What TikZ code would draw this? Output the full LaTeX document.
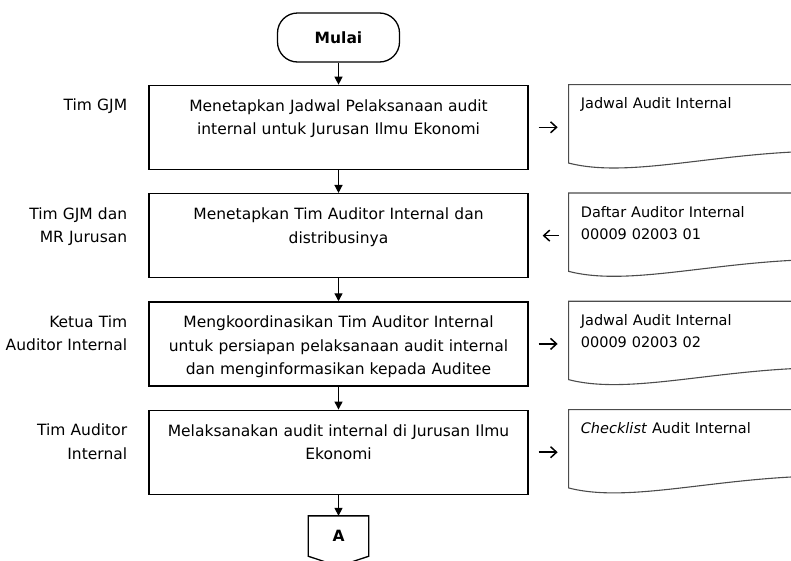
\documentclass[tikz,border=0pt]{standalone}
\usepackage{fontspec}
\setmainfont{DejaVu Sans}
\usetikzlibrary{positioning,calc,arrows.meta}

\begin{document}
\begin{tikzpicture}[x=1pt,y=-1pt,
        font=\fontsize{15.5}{23.5}\selectfont,
        term/.style={draw,line width=1.3pt,rounded corners=20pt,
            minimum width=122pt,minimum height=49pt,inner sep=0pt},
        proc/.style={draw,line width=1.3pt,inner xsep=10pt,inner ysep=0pt,
            text width=359pt,align=center,text height=26pt,text depth=58pt},
        role/.style={inner sep=0pt,text width=128pt,align=right,text height=26pt},
        docbox/.style={inner xsep=12pt,inner ysep=0pt,text width=236pt,align=left,
            text height=24pt,text depth=54pt,font=\fontsize{14.5}{22}\selectfont},
        docline/.style={draw=black!70,line width=1.1pt},
        offpage/.style={minimum width=60pt,minimum height=40pt,inner sep=0pt},
        flow/.style={-{Triangle[length=8pt,width=8pt]},line width=1.3pt},
        side/.style={-{Straight Barb[length=6pt,width=11pt]},line width=1.5pt}]
    \useasboundingbox (0,0) rectangle (791,560);

    \node[term] (start) at (338.5,37.5) {\textbf{Mulai}};
    \node[proc,below=22pt of start] (b1)
        {Menetapkan Jadwal Pelaksanaan audit\\internal untuk Jurusan Ilmu Ekonomi};
    \node[proc,below=23pt of b1] (b2)
        {Menetapkan Tim Auditor Internal dan\\distribusinya};
    \node[proc,below=23pt of b2] (b3)
        {Mengkoordinasikan Tim Auditor Internal\\untuk persiapan pelaksanaan audit internal\\dan menginformasikan kepada Auditee};
    \node[proc,below=23pt of b3] (b4)
        {Melaksanakan audit internal di Jurusan Ilmu\\Ekonomi};
    \node[offpage,below=21pt of b4] (A) {\textbf{A}};

    \node[role,below left=0pt and 21pt of b1.north west] (r1) {Tim GJM};
    \node[role,below left=0pt and 21pt of b2.north west] (r2) {Tim GJM dan\\MR Jurusan};
    \node[role,below left=0pt and 21pt of b3.north west] (r3) {Ketua Tim\\Auditor Internal};
    \node[role,below left=0pt and 21pt of b4.north west] (r4) {Tim Auditor\\Internal};

    \node[docbox,below right=0pt and 40pt of b1.north east] (d1) {Jadwal Audit Internal};
    \node[docbox,below right=0pt and 40pt of b2.north east] (d2) {Daftar Auditor Internal\\00009 02003 01};
    \node[docbox,below right=0pt and 40pt of b3.north east] (d3) {Jadwal Audit Internal\\00009 02003 02};
    \node[docbox,below right=0pt and 40pt of b4.north east] (d4) {\textit{Checklist} Audit Internal};

    \foreach \d in {d1,d2,d3,d4}
        \draw[docline] ($(\d.south east)+(0,-12)$) -- (\d.north east) -- (\d.north west)
            -- (\d.south west) .. controls +(62,16) and +(-110,0) .. ($(\d.south east)+(0,-12)$);

    \draw[line width=1.3pt] (A.north west) -- (A.north east) -- (A.south east)
        -- ($(A.south)+(0,10)$) -- (A.south west) -- cycle;

    \path[flow]
    (start) edge (b1)
    (b1) edge (b2)
    (b2) edge (b3)
    (b3) edge (b4)
    (b4) edge (A);

    \path[side]
    (b1.east) edge[shorten <=10pt,shorten >=11pt] (b1.east -| d1.west)
    (b2.east -| d2.west) edge[shorten <=10pt,shorten >=14pt] (b2.east)
    (b3.east) edge[shorten <=10pt,shorten >=11pt] (b3.east -| d3.west)
    (b4.east) edge[shorten <=10pt,shorten >=11pt] (b4.east -| d4.west);
\end{tikzpicture}
\end{document}
